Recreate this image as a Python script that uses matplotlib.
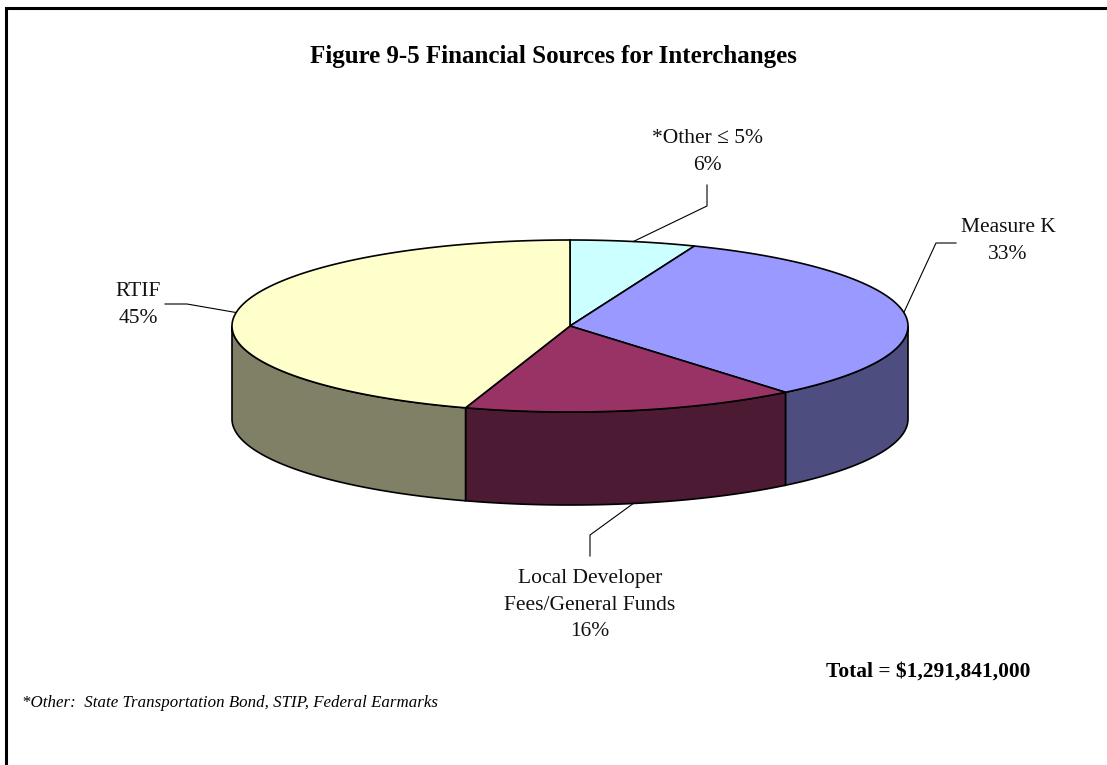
import numpy as np
import matplotlib.pyplot as plt
from matplotlib.patches import Polygon

plt.rcParams['font.family'] = ['Liberation Serif', 'DejaVu Serif']

# slice data, clockwise from 12 o'clock
labels = ['*Other \u2264 5%', 'Measure K', 'Local Developer\nFees/General Funds', 'RTIF']
shares = [6, 33, 16, 45]
top_colors = ['#CCFFFF', '#9999FF', '#993366', '#FFFFCC']
side_colors = ['#668080', '#4D4D80', '#4D1A33', '#808066']
total_text = 'Total = $1,291,841,000'
footnote = '*Other:  State Transportation Bond, STIP, Federal Earmarks'

W, H = 1107, 765
fig = plt.figure(figsize=(W / 100, H / 100), dpi=100)
ax = fig.add_axes([0, 0, 1, 1])
ax.set_xlim(0, W)
ax.set_ylim(H, 0)
ax.axis('off')

# pie geometry in pixels
cx, cy = 570, 326
rx, ry = 338, 86
depth = 93


def pt(theta, drop=0.0):
    t = np.radians(theta)
    return cx + rx * np.cos(t), cy - ry * np.sin(t) + drop


fracs = np.array(shares) / sum(shares)
starts = 90 - 360 * np.concatenate([[0], np.cumsum(fracs)[:-1]])
ends = starts - 360 * fracs
mids = (starts + ends) / 2

# side walls (only the front half, 180..360 deg, is visible)
for s, e, c in zip(starts, ends, side_colors):
    a0, a1 = e % 360, s % 360
    if a1 <= a0:
        a1 += 360
    lo = max(a0, 180)
    hi = min(a1, 360)
    if hi <= lo:
        continue
    th = np.linspace(lo, hi, 120)
    xs, ys = pt(th)
    xb, yb = pt(th[::-1], depth)
    poly = Polygon(np.column_stack([np.r_[xs, xb], np.r_[ys, yb]]),
                   closed=True, fc=c, ec='black', lw=1.2, zorder=1)
    ax.add_patch(poly)

# top faces
for s, e, c in zip(starts, ends, top_colors):
    th = np.linspace(s, e, 200)
    xs, ys = pt(th)
    poly = Polygon(np.column_stack([np.r_[cx, xs], np.r_[cy, ys]]),
                   closed=True, fc=c, ec='black', lw=1.2, zorder=2)
    ax.add_patch(poly)

# data labels with leader lines
pct = ['%d%%' % v for v in shares]
leader = [
    [(707, 206), (707, 185)],
    [(936, 243), (956, 243)],
    [(590, 535), (590, 556)],
    [(187, 304), (165, 304)],
]
text_pos = [(707, 152), (1008, 241), (590, 605), (138, 305)]
for i in range(4):
    drop = depth if i == 2 else 0
    ax0, ay0 = pt(mids[i], drop)
    xs = [ax0] + [p[0] for p in leader[i]]
    ys = [ay0] + [p[1] for p in leader[i]]
    ax.plot(xs, ys, color='black', lw=0.8, zorder=3)
    tx, ty = text_pos[i]
    ax.text(tx, ty, labels[i] + '\n' + pct[i], ha='center', va='center',
            fontsize=15.5, linespacing=1.55, color='#111111')

ax.text(553, 56, 'Figure 9-5 Financial Sources for Interchanges',
        ha='center', va='center', fontsize=18, fontweight='bold')
ax.text(1030, 672, total_text, ha='right', va='center',
        fontsize=15.4, fontweight='bold')
ax.text(22, 703, footnote, ha='left', va='center', fontsize=12.2,
        style='italic')

# frame (only top and left edges are in view)
ax.plot([5.5, 5.5, W + 5], [H + 5, 8, 8], color='black', lw=2.2,
        solid_joinstyle='miter', clip_on=False)

fig.savefig('out.png', dpi=100)
